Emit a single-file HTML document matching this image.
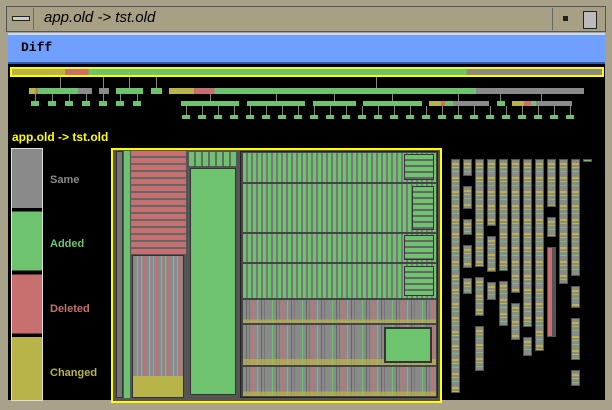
<!DOCTYPE html><html><head><style>
*{margin:0;padding:0}
body{width:612px;height:410px;background:#a9a28a;position:relative;overflow:hidden;font-family:"Liberation Sans",sans-serif}
div{position:absolute;box-sizing:border-box}
.g{background:#8a8a8a}.gr{background:#6ec46e}.r{background:#c87070}.o{background:#b8b44a}
.vs{background:repeating-linear-gradient(90deg,#6ec46e 0 3px,#777 3px 5px)}
.hs{background:repeating-linear-gradient(180deg,#6ec46e 0 4px,#666 4px 6px)}
.mix{background:linear-gradient(0deg,rgba(184,180,74,.7) 0 15%,transparent 15%),repeating-linear-gradient(90deg,#8a8a8a 0 3px,#666 3px 4px,#8a8a8a 4px 6px,#777 6px 7px,#8a8a8a 7px 9px,#c87070 9px 10px,#8a8a8a 10px 14px,#6ec46e 14px 15px)}
.col{background:repeating-linear-gradient(180deg,#8a8a8a 0 3px,#b8b44a 3px 5px,#8a8a8a 5px 7px,#b8b44a 7px 8px,#8a8a8a 8px 11px,#6ec46e 11px 12px,#8a8a8a 12px 14px);border:1px solid #555}
.l{background:#888;width:1px}
</style></head><body>
<div style="left:6px;top:6px;width:600px;height:26px;background:#a8a084;border:1px solid #555"></div>
<div style="left:12px;top:16px;width:18px;height:5px;border:1px solid #222;background:#ccc"></div>
<div style="left:33px;top:8px;width:520px;height:22px;border-left:1px solid #666;border-right:1px solid #666"></div>
<div style="left:44px;top:9px;font:italic 15px 'Liberation Sans';color:#000">app.old -&gt; tst.old</div>
<div style="left:563px;top:16px;width:5px;height:5px;background:#222"></div>
<div style="left:583px;top:11px;width:14px;height:18px;border:1px solid #222;background:#bbb"></div>
<div style="left:8px;top:33px;width:597px;height:31px;background:#70a0ff;border-top:2px solid #c8d8ff;border-bottom:2px solid #3a5aa0"></div>
<div style="left:21px;top:40px;font:bold 13px 'Liberation Mono',monospace;color:#000">Diff</div>
<div style="left:8px;top:64px;width:597px;height:336px;background:#000"></div>
<div style="left:10px;top:67px;width:594px;height:10px;border:2px solid #ff0;background:linear-gradient(90deg,#b8b44a 0 9%,#c87070 9% 13%,#6ec46e 13% 77%,#8a8a8a 77%)"></div>
<div class="l" style="left:60px;top:77px;height:11px"></div>
<div class="l" style="left:103px;top:77px;height:11px"></div>
<div class="l" style="left:129px;top:77px;height:11px"></div>
<div class="l" style="left:156px;top:77px;height:11px"></div>
<div class="l" style="left:376px;top:77px;height:11px"></div>
<div style="left:29px;top:88px;width:63px;height:6px;background:linear-gradient(90deg,#b8b44a 0 10%,#c87070 10% 14%,#6ec46e 14% 78%,#8a8a8a 78%)"></div>
<div style="left:99px;top:88px;width:10px;height:6px" class="g"></div>
<div style="left:116px;top:88px;width:27px;height:6px" class="gr"></div>
<div style="left:151px;top:88px;width:11px;height:6px" class="gr"></div>
<div style="left:169px;top:88px;width:415px;height:6px;background:linear-gradient(90deg,#b8b44a 0 6%,#c87070 6% 11%,#6ec46e 11% 74%,#8a8a8a 74%)"></div>
<div class="l" style="left:210px;top:94px;height:7px"></div>
<div class="l" style="left:276px;top:94px;height:7px"></div>
<div class="l" style="left:334px;top:94px;height:7px"></div>
<div class="l" style="left:392px;top:94px;height:7px"></div>
<div class="l" style="left:458px;top:94px;height:7px"></div>
<div class="l" style="left:500px;top:94px;height:7px"></div>
<div class="l" style="left:541px;top:94px;height:7px"></div>
<div style="left:181px;top:101px;width:58px;height:5px" class="gr"></div>
<div style="left:247px;top:101px;width:58px;height:5px" class="gr"></div>
<div style="left:313px;top:101px;width:43px;height:5px" class="gr"></div>
<div style="left:363px;top:101px;width:59px;height:5px" class="gr"></div>
<div style="left:429px;top:101px;width:60px;height:5px;background:linear-gradient(90deg,#b8b44a 0 20%,#c87070 20% 27%,#6ec46e 27% 40%,#8a8a8a 40%)"></div>
<div style="left:497px;top:101px;width:8px;height:5px" class="gr"></div>
<div style="left:512px;top:101px;width:60px;height:5px;background:linear-gradient(90deg,#b8b44a 0 20%,#c87070 20% 32%,#6ec46e 32% 40%,#8a8a8a 40%)"></div>
<div style="left:31px;top:101px;width:112px;height:5px;background:repeating-linear-gradient(90deg,#6ec46e 0 8px,#000 8px 17px)"></div>
<div style="left:31px;top:94px;width:112px;height:7px;background:repeating-linear-gradient(90deg,transparent 0 4px,#888 4px 5px,transparent 5px 17px)"></div>
<div style="left:182px;top:115px;width:400px;height:4px;background:repeating-linear-gradient(90deg,#6ec46e 0 8px,#000 8px 16px)"></div>
<div style="left:182px;top:106px;width:400px;height:9px;background:repeating-linear-gradient(90deg,transparent 0 4px,#888 4px 5px,transparent 5px 16px)"></div>
<div style="left:12px;top:130px;font:bold 12px 'Liberation Sans';color:#ff0">app.old -&gt; tst.old</div>
<div style="left:11px;top:148px;width:32px;height:253px;border:1px solid #ddd;background:linear-gradient(180deg,#8a8a8a 0 23.5%,#000 23.5% 25%,#6ec46e 25% 48.5%,#000 48.5% 50%,#c87070 50% 73.5%,#000 73.5% 75%,#b8b44a 75%)"></div>
<div style="left:50px;top:174px;font:bold 11px 'Liberation Sans';color:#8a8a8a">Same</div>
<div style="left:50px;top:238px;font:bold 11px 'Liberation Sans';color:#6ec46e">Added</div>
<div style="left:50px;top:303px;font:bold 11px 'Liberation Sans';color:#c87070">Deleted</div>
<div style="left:50px;top:367px;font:bold 11px 'Liberation Sans';color:#b8b44a">Changed</div>
<div style="left:111px;top:148px;width:331px;height:255px;border:2px solid #ff0;background:#555"></div>
<div style="left:116px;top:151px;width:7px;height:247px;background:#777;border:1px solid #333"></div>
<div style="left:124px;top:151px;width:6px;height:247px" class="gr"></div>
<div style="left:131px;top:151px;width:55px;height:103px;background:repeating-linear-gradient(180deg,#c87070 0 5px,#666 5px 7px)"></div>
<div style="left:132px;top:255px;width:52px;height:143px;background:linear-gradient(0deg,#b8b44a 0 15%,transparent 15%),repeating-linear-gradient(90deg,#8a8a8a 0 4px,#b8b44a 4px 5px,#8a8a8a 5px 8px,#6ec46e 8px 9px,#8a8a8a 9px 11px,#c87070 11px 12px);border:1px solid #333"></div>
<div style="left:189px;top:152px;width:47px;height:14px;background:repeating-linear-gradient(90deg,#6ec46e 0 5px,#666 5px 7px)"></div>
<div style="left:190px;top:168px;width:46px;height:227px;border:1px solid #333" class="gr"></div>
<div style="left:240px;top:151px;width:198px;height:247px;background:#444;border:1px solid #222"></div>
<div style="left:243px;top:153px;width:193px;height:29px" class="vs"></div>
<div style="left:243px;top:184px;width:193px;height:48px" class="vs"></div>
<div style="left:243px;top:234px;width:193px;height:28px" class="vs"></div>
<div style="left:243px;top:264px;width:193px;height:34px" class="vs"></div>
<div style="left:243px;top:300px;width:193px;height:23px" class="mix"></div>
<div style="left:243px;top:325px;width:193px;height:40px" class="mix"></div>
<div style="left:243px;top:367px;width:193px;height:29px" class="mix"></div>
<div style="left:404px;top:154px;width:30px;height:26px;border:1px solid #333" class="hs"></div>
<div style="left:412px;top:186px;width:22px;height:44px;border:1px solid #333" class="hs"></div>
<div style="left:404px;top:235px;width:30px;height:25px;border:1px solid #333" class="hs"></div>
<div style="left:404px;top:266px;width:30px;height:30px;border:1px solid #333" class="hs"></div>
<div style="left:384px;top:327px;width:48px;height:36px;border:2px solid #333" class="gr"></div>
<div class="col" style="left:451px;top:159px;width:9px;height:234px"></div>
<div class="col" style="left:463px;top:159px;width:9px;height:17px"></div>
<div class="col" style="left:463px;top:186px;width:9px;height:23px"></div>
<div class="col" style="left:463px;top:219px;width:9px;height:16px"></div>
<div class="col" style="left:463px;top:245px;width:9px;height:23px"></div>
<div class="col" style="left:463px;top:278px;width:9px;height:16px"></div>
<div class="col" style="left:475px;top:159px;width:9px;height:108px"></div>
<div class="col" style="left:475px;top:277px;width:9px;height:39px"></div>
<div class="col" style="left:475px;top:326px;width:9px;height:45px"></div>
<div class="col" style="left:487px;top:159px;width:9px;height:67px"></div>
<div class="col" style="left:487px;top:236px;width:9px;height:36px"></div>
<div class="col" style="left:487px;top:282px;width:9px;height:18px"></div>
<div class="col" style="left:499px;top:159px;width:9px;height:112px"></div>
<div class="col" style="left:499px;top:281px;width:9px;height:45px"></div>
<div class="col" style="left:511px;top:159px;width:9px;height:134px"></div>
<div class="col" style="left:511px;top:303px;width:9px;height:37px"></div>
<div class="col" style="left:523px;top:159px;width:9px;height:168px"></div>
<div class="col" style="left:523px;top:337px;width:9px;height:19px"></div>
<div class="col" style="left:535px;top:159px;width:9px;height:192px"></div>
<div class="col" style="left:547px;top:159px;width:9px;height:48px"></div>
<div class="col" style="left:547px;top:217px;width:9px;height:20px"></div>
<div style="left:547px;top:247px;width:9px;height:90px;background:linear-gradient(90deg,#c87070 0 60%,#555 60%);border:1px solid #555"></div>
<div class="col" style="left:559px;top:159px;width:9px;height:125px"></div>
<div class="col" style="left:571px;top:159px;width:9px;height:117px"></div>
<div class="col" style="left:571px;top:286px;width:9px;height:22px"></div>
<div class="col" style="left:571px;top:318px;width:9px;height:42px"></div>
<div class="col" style="left:571px;top:370px;width:9px;height:16px"></div>
<div style="left:583px;top:159px;width:9px;height:3px;background:#6ec46e;border:1px solid #555"></div>
</body></html>
